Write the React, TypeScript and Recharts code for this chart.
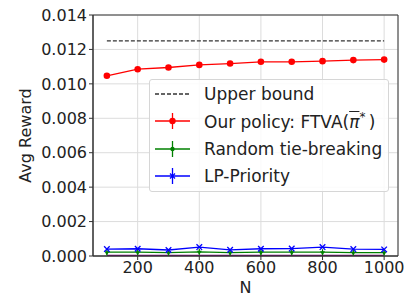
import { LineChart, Line, XAxis, YAxis, CartesianGrid, ReferenceArea } from "recharts";

const nValues = [100, 200, 300, 400, 500, 600, 700, 800, 900, 1000];
const upperBound = [0.0125, 0.0125, 0.0125, 0.0125, 0.0125, 0.0125, 0.0125, 0.0125, 0.0125, 0.0125];
const ftva = [0.01047, 0.01085, 0.01095, 0.0111, 0.01118, 0.01128, 0.01128, 0.01132, 0.01138, 0.01141];
const randomTie = [0.00022, 0.00022, 0.0002, 0.00024, 0.0002, 0.00022, 0.00022, 0.00022, 0.0002, 0.0002];
const lpPriority = [0.0004, 0.00042, 0.00035, 0.00052, 0.00036, 0.00042, 0.00043, 0.00052, 0.0004, 0.00038];
const floorLine = [0.00003, 0.00003, 0.00003, 0.00003, 0.00003, 0.00003, 0.00003, 0.00003, 0.00003, 0.00003];

const xTicks = [200, 400, 600, 800, 1000];
const yTicks = [0, 0.002, 0.004, 0.006, 0.008, 0.01, 0.012, 0.014];

const data = nValues.map((n, i) => ({
  n,
  upper: upperBound[i],
  ftva: ftva[i],
  rand: randomTie[i],
  lp: lpPriority[i],
  floor: floorLine[i],
}));

const FONT = "DejaVu Sans, sans-serif";

function RedDot({ cx, cy }: any) {
  return <circle cx={cx} cy={cy} r={3.3} fill="#ff0000" />;
}

function GreenDot({ cx, cy }: any) {
  return (
    <g>
      <line x1={cx} x2={cx} y1={cy - 3} y2={cy + 3} stroke="#008000" strokeWidth={1.2} />
      <path d={`M${cx - 2.5},${cy - 1} L${cx + 2.5},${cy - 1} L${cx},${cy + 3} Z`} fill="#008000" />
    </g>
  );
}

function BlueDot({ cx, cy }: any) {
  const s = 2.8;
  return (
    <g stroke="#0000ff" strokeWidth={1.3}>
      <line x1={cx - s} x2={cx + s} y1={cy - s} y2={cy + s} />
      <line x1={cx - s} x2={cx + s} y1={cy + s} y2={cy - s} />
    </g>
  );
}

function LegendBox() {
  const rows = [
    { key: "upper", color: "#333", dashed: true, label: <span>Upper bound</span> },
    {
      key: "ftva",
      color: "#ff0000",
      label: (
        <span>
          Our policy: FTVA(
          <span style={{ textDecoration: "overline", fontStyle: "italic" }}>π</span>
          <sup style={{ fontSize: 12 }}>*</sup>
          {"\u2009)"}
        </span>
      ),
    },
    { key: "rand", color: "#008000", label: <span>Random tie-breaking</span> },
    { key: "lp", color: "#0000ff", label: <span>LP-Priority</span> },
  ];
  return (
    <div
      style={{
        position: "absolute",
        left: 149,
        top: 79,
        width: 240,
        height: 113,
        background: "rgba(255,255,255,0.85)",
        border: "1px solid #d6d6d6",
        borderRadius: 3,
        fontFamily: FONT,
        fontSize: 17,
        color: "#222",
        boxSizing: "border-box",
        paddingTop: 0,
      }}
    >
      {rows.map((r) => (
        <div key={r.key} style={{ display: "flex", alignItems: "center", height: 27.5 }}>
          <svg width={54} height={20} style={{ flexShrink: 0 }}>
            <line
              x1={5}
              x2={40}
              y1={10}
              y2={10}
              stroke={r.color}
              strokeWidth={1.3}
              strokeDasharray={r.dashed ? "4 2" : undefined}
            />
            {!r.dashed && <line x1={22.5} x2={22.5} y1={2} y2={18} stroke={r.color} strokeWidth={1.3} />}
            {r.key === "ftva" && <circle cx={22.5} cy={10} r={3.2} fill={r.color} />}
            {r.key === "rand" && <circle cx={22.5} cy={10} r={2.2} fill={r.color} />}
            {r.key === "lp" && (
              <g stroke={r.color} strokeWidth={1.2}>
                <line x1={20} x2={25} y1={7.5} y2={12.5} />
                <line x1={20} x2={25} y1={12.5} y2={7.5} />
              </g>
            )}
          </svg>
          <div style={{ whiteSpace: "nowrap" }}>{r.label}</div>
        </div>
      ))}
    </div>
  );
}

export default function App() {
  return (
    <div style={{ position: "absolute", left: 0, top: 0, width: 412, height: 295, background: "#fff" }}>
      <LineChart
        width={412}
        height={295}
        data={data}
        margin={{ top: 15, right: 14, bottom: 0, left: 0 }}
      >
        <CartesianGrid stroke="#dcdcdc" strokeWidth={1} />
        <XAxis
          dataKey="n"
          type="number"
          domain={[55, 1045]}
          ticks={xTicks}
          interval={0}
          height={39}
          tickSize={4}
          tickMargin={2}
          stroke="#333"
          tick={{ fill: "#222", fontSize: 16, fontFamily: FONT }}
          label={{ value: "N", position: "insideBottom", offset: 0, dy: -2, fill: "#222", fontSize: 16, fontFamily: FONT }}
          allowDataOverflow
        />
        <YAxis
          type="number"
          domain={[0, 0.014]}
          ticks={yTicks}
          interval={0}
          width={93}
          tickSize={4}
          tickMargin={2}
          stroke="#333"
          tickFormatter={(v: number) => v.toFixed(3)}
          tick={{ fill: "#222", fontSize: 16, fontFamily: FONT }}
          label={{
            value: "Avg Reward",
            angle: -90,
            position: "insideLeft",
            offset: 0,
            dx: 25,
            fill: "#222",
            fontSize: 16,
            fontFamily: FONT,
            style: { textAnchor: "middle" },
          }}
          allowDataOverflow
        />
        <ReferenceArea x1={55} x2={1045} y1={0} y2={0.014} fill="none" stroke="#333" strokeWidth={1} />
        <Line dataKey="floor" stroke="#6a0a6a" strokeWidth={1.3} dot={false} isAnimationActive={false} />
        <Line dataKey="upper" stroke="#333" strokeWidth={1.3} strokeDasharray="4 2" dot={false} isAnimationActive={false} />
        <Line dataKey="ftva" stroke="#ff0000" strokeWidth={1.3} dot={<RedDot />} isAnimationActive={false} />
        <Line dataKey="rand" stroke="#008000" strokeWidth={1.3} dot={<GreenDot />} isAnimationActive={false} />
        <Line dataKey="lp" stroke="#0000ff" strokeWidth={1.3} dot={<BlueDot />} isAnimationActive={false} />
      </LineChart>
      <LegendBox />
    </div>
  );
}
